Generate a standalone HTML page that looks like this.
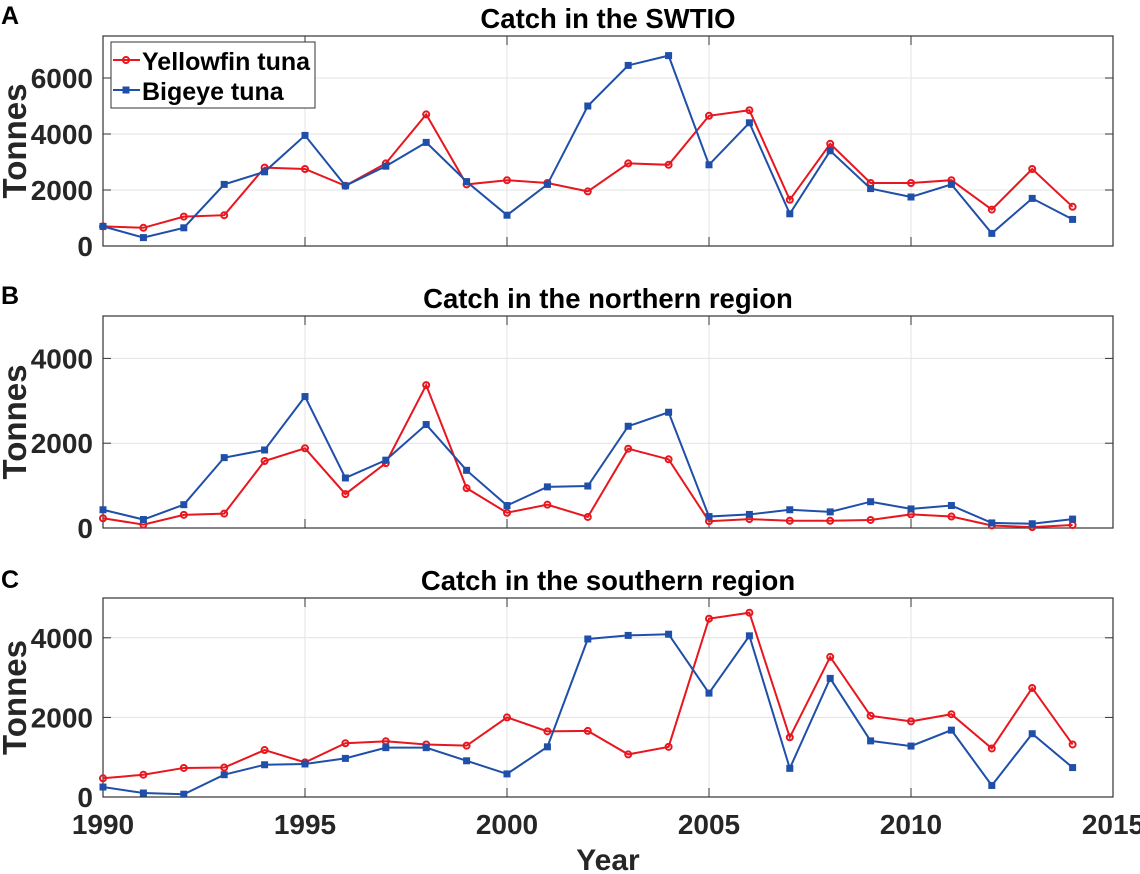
<!DOCTYPE html>
<html><head><meta charset="utf-8"><style>body{margin:0;background:#fff}svg{display:block;font-family:"Liberation Sans",Arial,sans-serif;font-weight:bold}</style></head>
<body>
<svg id="c" width="1140" height="874"></svg>
<script>
const years=[1990,1991,1992,1993,1994,1995,1996,1997,1998,1999,2000,2001,2002,2003,2004,2005,2006,2007,2008,2009,2010,2011,2012,2013,2014];
const xTicks=[1990,1995,2000,2005,2010,2015];
const aYellowfin=[700,650,1050,1100,2800,2750,2150,2950,4700,2200,2350,2250,1950,2950,2900,4650,4850,1650,3650,2250,2250,2350,1300,2750,1400];
const aBigeye=[700,300,650,2200,2650,3950,2150,2850,3700,2300,1100,2200,5000,6450,6800,2900,4400,1150,3400,2050,1750,2200,450,1700,950];
const bYellowfin=[230,80,310,340,1580,1880,800,1530,3370,940,360,550,260,1870,1620,160,210,170,170,190,320,270,60,20,70];
const bBigeye=[430,200,550,1660,1840,3100,1180,1600,2440,1360,530,970,990,2400,2730,270,320,430,380,620,450,530,120,100,210];
const cYellowfin=[470,560,730,740,1180,870,1350,1400,1320,1290,2000,1650,1660,1070,1260,4480,4630,1500,3520,2040,1900,2080,1220,2740,1320];
const cBigeye=[250,100,70,560,810,830,970,1240,1240,910,580,1260,3970,4060,4090,2610,4050,720,2980,1410,1280,1680,290,1590,740];
const aTicks=[0,2000,4000,6000], bTicks=[0,2000,4000], cTicks=[0,2000,4000];
const NS="http://www.w3.org/2000/svg", svg=document.getElementById('c');
const X0=103,X1=1113;
const xs=v=>X0+(v-1990)/(2015-1990)*(X1-X0);
function el(t,a,p){const e=document.createElementNS(NS,t);for(const k in a)e.setAttribute(k,a[k]);(p||svg).appendChild(e);return e;}
const panels=[
 {id:'a',top:36,bot:246,max:7500,ticks:aTicks,title:'Catch in the SWTIO',lab:'A',labY:24,y1:aYellowfin,y2:aBigeye},
 {id:'b',top:316,bot:528,max:5000,ticks:bTicks,title:'Catch in the northern region',lab:'B',labY:304,y1:bYellowfin,y2:bBigeye},
 {id:'c',top:598,bot:797,max:5000,ticks:cTicks,title:'Catch in the southern region',lab:'C',labY:588,y1:cYellowfin,y2:cBigeye}];
panels.forEach(p=>{
 const g=el('g',{});
 const ys=v=>p.bot-v/p.max*(p.bot-p.top);
 el('rect',{x:X0,y:p.top,width:X1-X0,height:p.bot-p.top,fill:'#fff'},g);
 xTicks.forEach(t=>{const l=el('line',{x1:xs(t),x2:xs(t),y1:p.top,y2:p.bot,stroke:'#e3e3e3','stroke-width':1},g);});
 p.ticks.forEach(t=>{const l=el('line',{x1:X0,x2:X1,y1:ys(t),y2:ys(t),stroke:'#e3e3e3','stroke-width':1},g);
  el('line',{x1:X0,x2:X0+8,y1:ys(t),y2:ys(t),stroke:'#333'},g);el('line',{x1:X1,x2:X1-8,y1:ys(t),y2:ys(t),stroke:'#333'},g);
  const tx=el('text',{x:X0-10,y:ys(t)+10,'text-anchor':'end','font-size':28,fill:'#262626'},g);tx.textContent=t;});
 xTicks.forEach(t=>{el('line',{x1:xs(t),x2:xs(t),y1:p.bot,y2:p.bot-9,stroke:'#333'},g);el('line',{x1:xs(t),x2:xs(t),y1:p.top,y2:p.top+9,stroke:'#333'},g);
  if(p.id==='c'){const tx=el('text',{x:xs(t),y:p.bot+37,'text-anchor':'middle','font-size':28,fill:'#262626'},g);tx.textContent=t;}});
 el('rect',{x:X0,y:p.top,width:X1-X0,height:p.bot-p.top,fill:'none',stroke:'#333','stroke-width':1.2},g);
 const ti=el('text',{x:(X0+X1)/2,y:p.top-8,'text-anchor':'middle','font-size':27.5,fill:'#000'},g);ti.textContent=p.title;
 const lb=el('text',{x:1,y:p.labY,'font-size':25,fill:'#000'},g);lb.textContent=p.lab;
 const yl=el('text',{transform:`translate(26 ${(p.top+p.bot)/2}) rotate(-90)`,'text-anchor':'middle','font-size':33,fill:'#262626'},g);yl.textContent='Tonnes';
 [[p.y1,'#e8161e','c'],[p.y2,'#1f4fa8','s']].forEach(([d,col,m])=>{
  const pl=el('polyline',{points:d.map((v,i)=>xs(years[i])+','+ys(v)).join(' '),fill:'none',stroke:col,'stroke-width':2},g);
  
  d.forEach((v,i)=>{let mk;if(m==='c')mk=el('circle',{cx:xs(years[i]),cy:ys(v),r:3,fill:'none',stroke:col,'stroke-width':2},g);
   else mk=el('rect',{x:xs(years[i])-3.5,y:ys(v)-3.5,width:7,height:7,fill:col},g);
   });
 });
});
const lg=el('g',{});
el('rect',{x:111,y:42,width:204,height:66,fill:'#fff',stroke:'#333','stroke-width':1},lg);
el('line',{x1:113,x2:140,y1:60,y2:60,stroke:'#e8161e','stroke-width':2},lg);el('circle',{cx:126,cy:60,r:3,fill:'none',stroke:'#e8161e','stroke-width':2},lg);
el('line',{x1:113,x2:140,y1:90,y2:90,stroke:'#1f4fa8','stroke-width':2},lg);el('rect',{x:122.5,y:86.5,width:7,height:7,fill:'#1f4fa8'},lg);
let t1=el('text',{x:142,y:70,'font-size':25,fill:'#000'},lg);t1.textContent='Yellowfin tuna';
let t2=el('text',{x:142,y:100,'font-size':25,fill:'#000'},lg);t2.textContent='Bigeye tuna';
const xt=el('text',{x:608,y:870,'text-anchor':'middle','font-size':30,fill:'#262626'});xt.textContent='Year';
</script>
</body></html>
